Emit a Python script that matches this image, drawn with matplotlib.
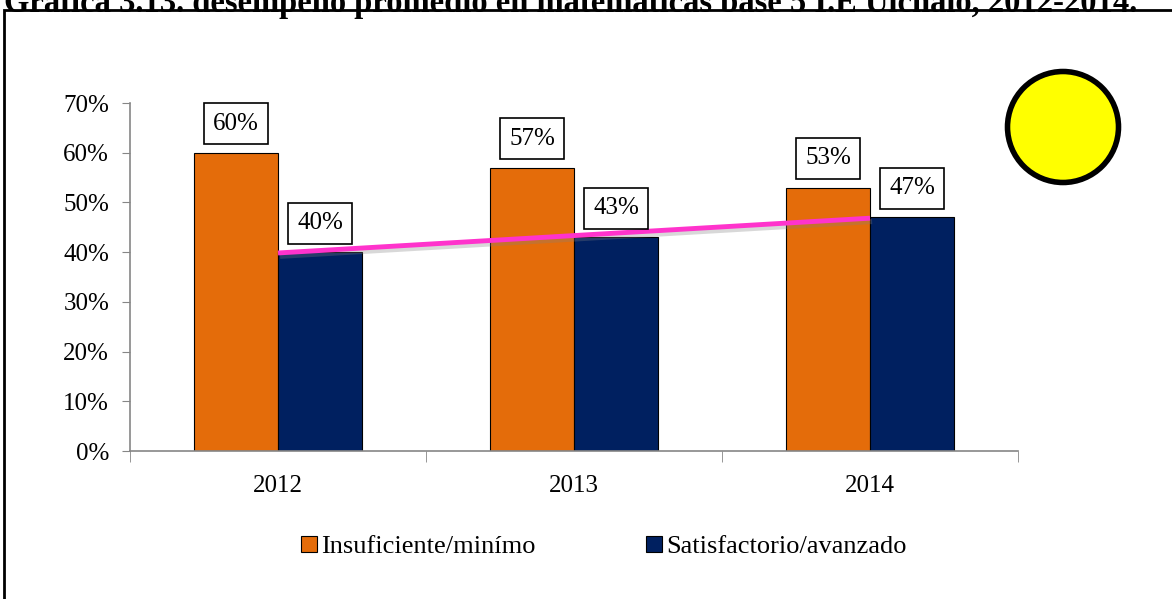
import numpy as np
import matplotlib
matplotlib.use("Agg")
import matplotlib.pyplot as plt
import matplotlib.patheffects as pe
from matplotlib.patches import Circle, Rectangle

# --- datos ---
years = ["2012", "2013", "2014"]
insuficiente = [60, 57, 53]
satisfactorio = [40, 43, 47]
series_names = ["Insuficiente/minímo", "Satisfactorio/avanzado"]
title = "Gráfica 3.13. desempeño promedio en matemáticas base 5 I.E Ulchalo, 2012-2014."

c_orange = "#E46C0A"
c_navy = "#002060"
serif = ["Liberation Serif", "DejaVu Serif"]
plt.rcParams["font.family"] = serif

fig = plt.figure(figsize=(11.72, 5.99), dpi=100)
ax = fig.add_axes([130 / 1172, 1 - 451 / 599, 888 / 1172, 348 / 599])

x = np.arange(len(years))
w = 0.284
b1 = ax.bar(x - w / 2, insuficiente, w, color=c_orange, edgecolor="black", linewidth=0.8,
            label=series_names[0], zorder=2)
b2 = ax.bar(x + w / 2, satisfactorio, w, color=c_navy, edgecolor="black", linewidth=0.8,
            label=series_names[1], zorder=2)

# etiquetas en cajas
for bars in (b1, b2):
    for r in bars:
        v = r.get_height()
        ax.annotate(f"{v:.0f}%", (r.get_x() + r.get_width() / 2, v),
                    xytext=(0, 13), textcoords="offset points", ha="center", va="bottom",
                    fontsize=18, zorder=5,
                    bbox=dict(boxstyle="square,pad=0.38", fc="white", ec="black", lw=1.2))

# linea de tendencia (satisfactorio)
k, n = np.polyfit(x, satisfactorio, 1)
ax.plot(x, k * x + n, color="#FF33CC", lw=3.5, zorder=4, solid_capstyle="butt",
        path_effects=[pe.SimpleLineShadow(offset=(1.5, -2.5), shadow_color="gray", alpha=0.3),
                      pe.Normal()])

ax.set_xlim(-0.5, 2.5)
ax.set_ylim(0, 70)
ax.set_yticks(np.arange(0, 71, 10))
ax.set_yticklabels([f"{t}%" for t in range(0, 71, 10)], fontsize=18)
ax.set_xticks(x)
ax.set_xticklabels(years, fontsize=18)
ax.set_xticks([-0.5, 0.5, 1.5, 2.5], minor=True)
ax.tick_params(axis="x", which="major", length=0, pad=17)
ax.tick_params(axis="x", which="minor", length=8, color="#868686", direction="out")
ax.tick_params(axis="y", length=6, color="#868686", pad=9)
for s in ("top", "right"):
    ax.spines[s].set_visible(False)
for s in ("left", "bottom"):
    ax.spines[s].set_color("#868686")
    ax.spines[s].set_linewidth(1.2)

# leyenda
fig.legend(handles=[b1, b2], labels=series_names, loc="center", bbox_to_anchor=(0.515, 1 - 547 / 599),
           ncol=2, frameon=False, fontsize=19, handlelength=0.6, handleheight=0.6,
           handletextpad=0.15, columnspacing=4.2)

# circulo amarillo
fig.add_artist(Circle((10.63, (599 - 127) / 100), 0.555, transform=fig.dpi_scale_trans,
                      fc="#FFFF00", ec="black", lw=4))

# marco exterior
fig.add_artist(Rectangle((4 / 1172, -0.05), 1.2, 1 - 10 / 599 + 0.05, transform=fig.transFigure,
                         fill=False, ec="black", lw=2))

# titulo (cortado arriba, como en la imagen)
fig.text(4 / 1172, 1 - 12 / 599, title, fontsize=23.5, fontweight="bold", va="baseline", ha="left")

fig.savefig("out.png", dpi=100)
